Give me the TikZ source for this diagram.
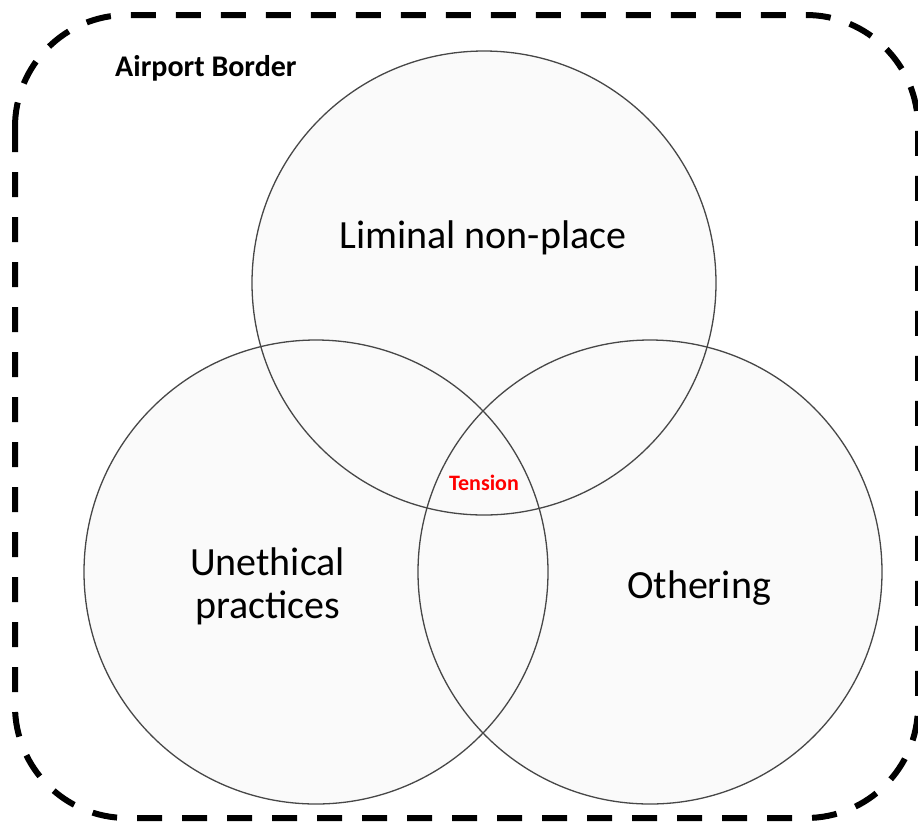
\documentclass[tikz,border=0pt]{standalone}
\usepackage{fontspec}
\setmainfont{Carlito}
\begin{document}
\begin{tikzpicture}[x=1pt,y=-1pt,
  vennfill/.style={circle, fill=black!2, minimum size=464pt, inner sep=0pt},
  vennline/.style={circle, draw=black!72, line width=1.3pt, minimum size=464pt, inner sep=0pt},
  lbl/.style={font=\fontsize{40}{46}\selectfont, text=black, inner sep=0pt, anchor=base},
  border/.style={line width=6pt, dash pattern=on 25pt off 20pt, rounded corners=112pt}]
\useasboundingbox (0,0) rectangle (918,823);
\draw[border] (15,15) rectangle (918,818);
\node[vennfill] (top) at (484,283) {};
\node[vennfill] (left) at (316,572) {};
\node[vennfill] (right) at (650,572) {};
\node[vennline] (topo) at (top) {};
\node[vennline] (lefto) at (left) {};
\node[vennline] (righto) at (right) {};
\node[lbl] (lim) at (483,248) {Liminal non-place};
\node[lbl] (une1) at (267.5,575) {Unethical};
\node[lbl] (une2) at (267.5,618) {practices};
\node[lbl] (oth) at (699,598) {Othering};
\node[font=\bfseries\fontsize{22}{26}\selectfont, text=red, inner sep=0pt, anchor=base] (ten) at (484,490) {Tension};
\node[font=\bfseries\fontsize{30}{34}\selectfont, inner sep=0pt, anchor=base west] (ab) at (115,76) {Airport Border};
\end{tikzpicture}
\end{document}
